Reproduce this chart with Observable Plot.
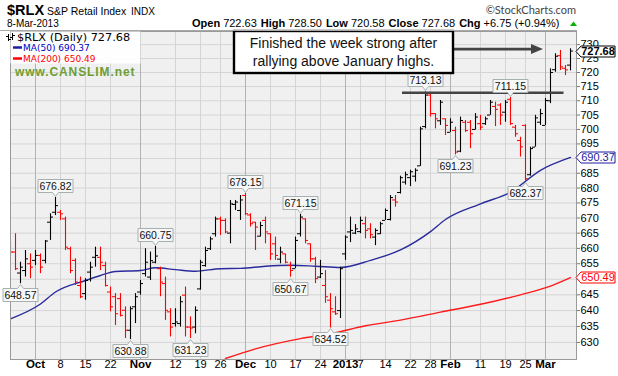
<!DOCTYPE html>
<html><head><meta charset="utf-8">
<script src="https://cdn.jsdelivr.net/npm/d3@7"></script>
<script src="https://cdn.jsdelivr.net/npm/@observablehq/plot@0.6"></script>
<style>
body{margin:0;background:#fff;}
#wrap{position:relative;width:618px;height:376px;overflow:hidden;}
</style></head><body><div id="wrap"></div>
<script>
// ---- Data (trading-day index 0 = 24-Sep-2012 ... 112 = 8-Mar-2013) ----
const open = [
 661.0,658.8,652.0,652.8,655.0,656.1,657.7,656.1,668.6,671.9,
 671.9,669.7,659.9,656.1,648.0,645.4,652.3,657.1,657.1,654.4,
 645.9,644.4,643.8,640.1,633.8,641.2,645.9,651.8,650.7,655.5,
 653.4,648.6,639.6,635.9,635.9,644.9,634.8,634.8,646.9,654.4,
 659.9,664.8,669.7,669.2,665.0,674.5,672.5,677.5,671.0,668.6,
 664.0,669.2,664.8,661.5,656.5,658.2,654.4,653.4,664.8,669.7,
 661.5,656.6,650.7,648.0,643.3,639.6,640.0,658.2,665.4,665.0,
 665.5,668.1,666.4,663.7,664.8,669.2,669.5,676.0,678.5,682.0,
 683.5,684.0,687.5,701.0,712.0,705.5,703.0,703.7,699.0,699.6,
 692.5,702.5,702.5,700.0,702.0,702.0,705.0,708.0,708.5,706.0,
 710.5,700.8,696.2,701.4,684.5,693.9,702.5,701.4,710.0,721.0,
 726.0,721.5,722.63];
const high = [
 662.0,664.8,655.5,659.3,658.2,659.3,658.2,662.6,671.4,676.82,
 672.5,670.3,660.4,656.6,650.7,650.2,655.5,660.4,660.4,655.5,
 647.5,645.4,645.4,641.2,641.2,645.4,649.6,659.9,658.8,660.75,
 653.9,650.7,640.6,640.6,644.4,647.5,638.0,641.2,656.1,660.4,
 663.7,670.3,670.3,669.7,675.8,675.8,677.5,678.15,671.4,668.6,
 668.6,670.3,664.8,663.7,660.4,658.2,655.5,663.7,671.15,669.7,
 661.5,657.1,656.1,652.8,645.4,644.4,653.9,664.1,670.3,667.8,
 670.3,670.3,668.1,666.4,668.6,673.0,677.5,677.5,684.0,685.4,
 686.0,686.5,700.8,713.13,712.5,705.5,710.1,703.7,703.7,700.8,
 704.3,703.1,703.1,705.5,704.9,704.3,710.1,709.5,709.0,710.1,
 711.15,701.4,697.3,701.6,693.9,704.9,707.0,710.8,721.3,726.7,
 727.9,722.5,728.50];
const low = [
 657.5,652.8,648.57,650.7,650.2,654.4,651.8,655.0,662.6,670.8,
 669.2,659.3,651.8,648.0,643.8,643.3,649.1,653.9,652.8,647.5,
 639.6,635.3,638.0,631.2,630.88,635.9,644.9,650.7,649.6,655.0,
 644.4,636.9,631.7,634.8,634.8,631.7,631.23,632.7,646.5,653.9,
 659.3,663.7,664.2,664.8,661.5,672.5,669.2,670.8,667.0,659.3,
 663.7,661.5,656.1,656.1,655.0,655.0,650.67,653.4,663.7,661.5,
 655.5,648.6,650.2,642.3,634.52,638.5,637.5,656.1,661.9,664.5,
 664.8,663.1,663.1,660.9,664.5,669.2,669.0,673.6,678.0,681.0,
 680.5,682.0,687.3,700.2,704.3,700.2,701.4,697.9,699.0,691.23,
 692.0,699.0,693.4,699.8,699.6,701.4,704.9,701.0,701.4,702.5,
 701.4,697.3,690.5,682.37,684.0,693.9,701.4,701.4,709.0,720.1,
 720.7,718.9,720.58];
const close = [
 658.8,653.4,653.9,656.6,653.9,657.7,653.9,662.4,670.3,674.1,
 671.4,660.4,652.8,649.1,644.4,649.6,653.9,657.7,655.5,648.0,
 641.2,639.0,638.5,633.8,640.6,644.4,648.6,655.5,656.0,657.5,
 649.1,640.1,634.8,636.4,642.8,634.8,634.5,640.1,655.5,659.3,
 663.1,669.7,669.2,665.4,674.7,675.3,676.0,671.4,668.1,667.0,
 667.5,665.4,658.2,657.7,658.8,655.5,652.8,662.6,670.3,662.6,
 656.6,650.2,651.8,644.4,640.6,639.0,653.4,663.7,665.9,666.4,
 669.2,665.9,664.5,665.9,668.1,672.5,676.8,675.3,683.5,684.5,
 685.5,686.0,700.2,712.0,705.5,703.7,709.5,701.4,702.5,692.2,
 703.1,699.6,698.5,704.3,700.8,703.7,709.5,707.0,705.0,709.5,
 702.0,698.5,694.0,683.1,693.4,704.0,705.5,710.1,720.0,725.8,
 722.0,720.93,727.68];

const ma50Idx = [0,6,9,15,18,21,26,29,33,37,42,46,51,56,61,66,72,78,84,87,94,100,106,112];
const ma50Val = [637.4,642.1,645.9,649.6,651.2,652.5,652.8,653.7,653.1,652.6,653.4,653.5,654.2,654.5,654.2,653.8,656.1,659.5,665.5,669.5,674.7,678.6,686.0,690.37];
const ma200Idx = [43,49,58,64,71,78,86,94,102,108,112];
const ma200Val = [625.0,628.0,631.2,632.7,635.2,637.0,639.5,642.0,645.0,647.8,650.49];

const tickIdx = [5,10,15,20,26,33,38,42,47,52,57,62,67,70,75,80,84,88,94,99,103,107];
const tickLabel = ["Oct","8","15","22","Nov","12","19","26","Dec","10","17","24","2013","7","14","22","28","Feb","11","19","25","Mar"];
const monthNames = ["Oct","Nov","Dec","2013","Feb","Mar"];
const yTicks = [630,635,640,645,650,655,660,665,670,675,680,685,690,695,700,705,710,715,720,725,730];
const yHiddenLabels = [650, 690]; // covered by the MA value tags

const peakIdx = [2,9,24,29,36,47,56,58,64,83,89,100,103];
const peakVal = [648.57,676.82,630.88,660.75,631.23,678.15,650.67,671.15,634.52,713.13,691.23,711.15,682.37];
const peakSide = ["low","high","low","high","low","high","low","high","low","high","low","high","low"];

const resistIdx = [78.4, 110.7];
const resistVal = 712.8;
const arrowIdx = [88.7, 106.6];
const arrowVal = 728.2;

const noteLines = ["Finished the week strong after", "rallying above January highs."];
const ohlcNames = ["Open","High","Low","Close","Chg"];
const ohlcVals = ["722.63","728.50","720.58","727.68","+6.75 (+0.94%)"];
const lastClose = 727.68, lastMA50 = 690.37, lastMA200 = 650.49;

// ---- Build ----
const bars = close.map((c, i) => ({i, o: open[i], h: high[i], l: low[i], c,
  up: i === 0 ? c >= open[i] : c >= close[i - 1]}));
const upBars = bars.filter(d => d.up), dnBars = bars.filter(d => !d.up);
const ticks = tickIdx.map((i, k) => ({i, label: tickLabel[k], month: monthNames.includes(tickLabel[k])}));
const monthTicks = ticks.filter(d => d.month), weekTicks = ticks.filter(d => !d.month);
const ma50 = ma50Idx.map((i, k) => ({i, v: ma50Val[k]}));
const ma200 = ma200Idx.map((i, k) => ({i, v: ma200Val[k]}));
const resist = [{i1: resistIdx[0], i2: resistIdx[1], v: resistVal}];
const yLabelTicks = yTicks.filter(t => !yHiddenLabels.includes(t));

const TW = 0.6;
function ohlc(data, color) {
  return [
    Plot.ruleX(data, {x: "i", y1: "l", y2: "h", stroke: color, strokeWidth: 1.1, clip: true}),
    Plot.ruleY(data, {y: "o", x1: d => d.i - TW, x2: "i", stroke: color, clip: true}),
    Plot.ruleY(data, {y: "c", x1: "i", x2: d => d.i + TW, stroke: color, clip: true})
  ];
}

const FONT = "Arial, 'Liberation Sans', sans-serif";
const chart = Plot.plot({
  width: 618, height: 376,
  marginTop: 31, marginBottom: 17, marginLeft: 10, marginRight: 42,
  style: {fontFamily: FONT, fontSize: "11px", color: "#000", background: "#fff", overflow: "visible"},
  x: {type: "linear", domain: [0, 113.2], axis: null},
  y: {type: "log", domain: [624.7, 734.75], axis: null},
  marks: [
    Plot.frame({fill: "#f0f0f0", stroke: null}),
    Plot.gridY(yTicks, {stroke: "#d5d5d5", strokeOpacity: 1}),
    Plot.ruleX(weekTicks, {x: "i", stroke: "#d5d5d5"}),
    Plot.ruleX(monthTicks, {x: "i", stroke: "#b2b2b2"}),
    Plot.line(ma200, {x: "i", y: "v", stroke: "#ff1a1a", strokeWidth: 1.4, curve: "monotone-x", clip: true}),
    Plot.line(ma50, {x: "i", y: "v", stroke: "#2a2a9c", strokeWidth: 1.4, curve: "monotone-x", clip: true}),
    ...ohlc(upBars, "#000"),
    ...ohlc(dnBars, "#ff0000"),
    Plot.ruleY(resist, {y: "v", x1: "i1", x2: "i2", stroke: "#444", strokeWidth: 2.6}),
    Plot.frame({stroke: "#9a9a9a"}),
    Plot.axisY(yTicks, {anchor: "right", tickSize: 3, tickPadding: 1, text: null, label: null, stroke: "#777"}),
    Plot.axisY(yLabelTicks, {anchor: "right", tickSize: 0, tickPadding: 4, fontSize: 11, tickFormat: d => String(d), label: null}),
    Plot.text(weekTicks, {x: "i", text: "label", frameAnchor: "bottom", dy: 8, fontSize: 11}),
    Plot.text(monthTicks, {x: "i", text: "label", frameAnchor: "bottom", dy: 8, fontSize: 11.5, fontWeight: "bold"})
  ]
});
document.getElementById("wrap").appendChild(chart);

const sx = chart.scale("x"), sy = chart.scale("y");
const X = v => sx.apply(v), Y = v => sy.apply(v);
const svg = d3.select(chart);

// peak / trough labels
const lab = svg.append("g").attr("font-family", FONT).attr("font-size", 10.5).attr("text-anchor", "middle");
peakIdx.forEach((i, k) => {
  const px = Math.round(X(i)) + 0.5, py = Y(peakVal[k]);
  const w = 35, h = 13, p = 4;
  const hi = peakSide[k] === "high";
  const edge = hi ? Math.round(py - 5) + 0.5 : Math.round(py + 5) + 0.5;
  const far = hi ? edge - h : edge + h;
  const s = hi ? 1 : -1;
  const d = `M${px - w/2},${far} H${px + w/2} V${edge} H${px + 3} L${px},${edge + s*p} L${px - 3},${edge} H${px - w/2} Z`;
  lab.append("path").attr("d", d).attr("fill", "#f7f7f7").attr("stroke", "#a7b0b0");
  lab.append("text").attr("x", px).attr("y", (edge + far) / 2).attr("dy", "0.36em")
    .attr("fill", "#111").text(peakVal[k].toFixed(2));
});

// right-hand value tags
const tg = svg.append("g").attr("font-family", FONT).attr("text-anchor", "middle");
function tag(v, color, weight) {
  const py = Math.round(Y(v)) + 0.5;
  const x0 = 576, x1 = 581, x2 = 615, h = 11;
  tg.append("path").attr("d", `M${x0},${py} L${x1},${py - h/2} H${x2} V${py + h/2} H${x1} Z`)
    .attr("fill", "#fff").attr("stroke", color);
  tg.append("text").attr("x", (x1 + x2) / 2).attr("y", py).attr("dy", "0.36em")
    .attr("fill", color).attr("font-weight", weight).attr("font-size", 11).text(v.toFixed(2));
}
tag(lastMA50, "#1c1ca0", "normal");
tag(lastMA200, "#ff0000", "normal");
tag(lastClose, "#000", "bold");

// arrow
const ay = Y(arrowVal), ax1 = X(arrowIdx[0]), ax2 = X(arrowIdx[1]);
svg.append("line").attr("x1", ax1).attr("x2", ax2 - 10).attr("y1", ay).attr("y2", ay)
  .attr("stroke", "#444").attr("stroke-width", 2.6);
svg.append("path").attr("d", `M${ax2},${ay} L${ax2 - 12},${ay - 5} L${ax2 - 12},${ay + 5} Z`).attr("fill", "#444");

// note box
const nb = svg.append("g").attr("text-anchor", "middle").attr("font-family", FONT);
nb.append("rect").attr("x", 234).attr("y", 31).attr("width", 219).attr("height", 42)
  .attr("fill", "#fff").attr("stroke", "#000").attr("stroke-width", 2.4);
noteLines.forEach((t, k) => nb.append("text").attr("x", 343.5).attr("y", 47.5 + k * 18)
  .attr("font-size", 14).attr("fill", "#111").text(t));

// legend
const lg = svg.append("g").attr("text-anchor", "start");
lg.append("rect").attr("x", 10.5).attr("y", 31.5).attr("width", 130).attr("height", 32).attr("fill", "#fff").attr("opacity", 0.92);
[[8, 34, 41, 36, 39], [12, 33, 40, 37, 35]].forEach(([x, a, b, o, c]) => {
  lg.append("line").attr("x1", x + .5).attr("x2", x + .5).attr("y1", a).attr("y2", b).attr("stroke", "#000");
  lg.append("line").attr("x1", x - 2).attr("x2", x + .5).attr("y1", o + .5).attr("y2", o + .5).attr("stroke", "#000");
  lg.append("line").attr("x1", x + .5).attr("x2", x + 3).attr("y1", c + .5).attr("y2", c + .5).attr("stroke", "#000");
});
lg.append("text").attr("x", 17).attr("y", 40.5).attr("font-family", "'DejaVu Sans', Verdana, sans-serif")
  .attr("font-size", 11.3).attr("fill", "#000").text(`$RLX (Daily) ${lastClose.toFixed(2)}`);
lg.append("line").attr("x1", 13).attr("x2", 22).attr("y1", 47.5).attr("y2", 47.5).attr("stroke", "#1c1ca0").attr("stroke-width", 2.5);
lg.append("text").attr("x", 23).attr("y", 51).attr("font-family", "'DejaVu Sans', Verdana, sans-serif")
  .attr("font-size", 9).attr("fill", "#0000c0").text(`MA(50) ${lastMA50.toFixed(2)}`);
lg.append("line").attr("x1", 13).attr("x2", 22).attr("y1", 58.5).attr("y2", 58.5).attr("stroke", "#ff0000").attr("stroke-width", 2.5);
lg.append("text").attr("x", 23).attr("y", 62).attr("font-family", "'DejaVu Sans', Verdana, sans-serif")
  .attr("font-size", 9).attr("fill", "#ff0000").text(`MA(200) ${lastMA200.toFixed(2)}`);
lg.append("text").attr("x", 15).attr("y", 75.5).attr("font-family", FONT).attr("font-weight", "bold")
  .attr("font-size", 12).attr("letter-spacing", 0.9).attr("fill", "#6e9e32").text("www.CANSLIM.net");

// header
const hd = svg.append("g").attr("font-family", FONT).attr("fill", "#000").attr("text-anchor", "start");
hd.append("text").attr("x", 7).attr("y", 15).attr("font-size", 14.5).attr("font-weight", "bold").text("$RLX");
hd.append("text").attr("x", 47).attr("y", 15).attr("font-size", 10.5).text("S&P Retail Index");
hd.append("text").attr("x", 131).attr("y", 15).attr("font-size", 10).text("INDX");
hd.append("text").attr("x", 7).attr("y", 26.5).attr("font-size", 10).text("8-Mar-2013");
const ht = hd.append("text").attr("x", 192).attr("y", 26.5).attr("font-size", 11);
ohlcNames.forEach((n, k) => {
  ht.append("tspan").attr("font-weight", "bold").attr("dx", k ? 4 : 0).text(n);
  ht.append("tspan").attr("dx", 3).text(ohlcVals[k]);
});
hd.append("path").attr("d", "M570,26 L577,26 L573.5,21.5 Z").attr("fill", "#00b400");
hd.append("text").attr("x", 576).attr("y", 14).attr("text-anchor", "end").attr("font-family", "Lato, 'Open Sans', sans-serif")
  .attr("font-size", 11).attr("fill", "#444").text("\u00A9StockCharts.com");
svg.append("line").attr("x1", 0).attr("x2", 577).attr("y1", 30.5).attr("y2", 30.5).attr("stroke", "#a8a8a8");
</script></body></html>
